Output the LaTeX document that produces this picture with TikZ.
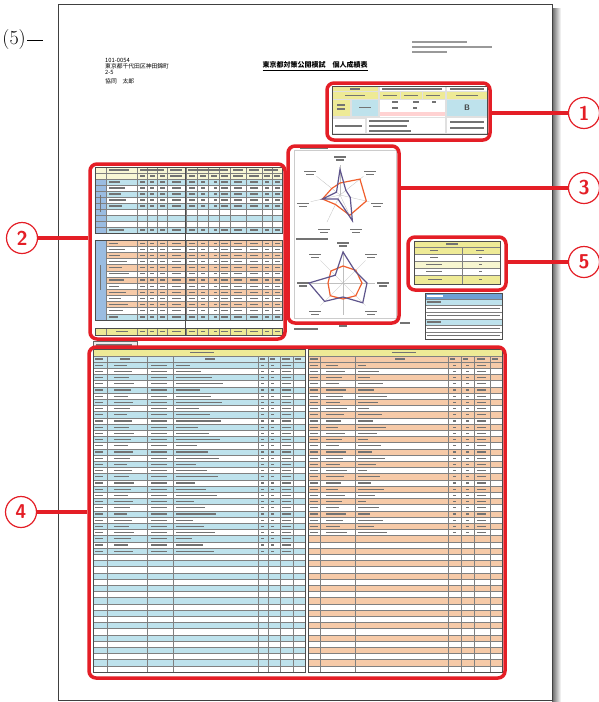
\documentclass[tikz,border=0pt]{standalone}
\usepackage{fontspec}
\newfontfamily\jpfont{Noto Sans CJK JP}
\usetikzlibrary{calc, positioning}

\definecolor{calloutred}{RGB}{228,30,38}
\definecolor{rowblue}{RGB}{190,226,236}
\definecolor{roworange}{RGB}{246,202,168}
\definecolor{rowyellow}{RGB}{238,234,150}
\definecolor{headblue}{RGB}{110,160,212}
\definecolor{lineplum}{RGB}{95,85,140}
\definecolor{lineorange}{RGB}{240,95,45}
\definecolor{inkgray}{RGB}{115,115,115}

\tikzset{
  callout/.style={draw=calloutred, line width=3.5pt, rounded corners=7pt, inner sep=0pt},
  leader/.style={calloutred, line width=4.5pt},
  badge/.style={circle, draw=calloutred, line width=1.2pt, fill=white, text=calloutred,
    minimum size=31pt, inner sep=0pt, font=\sffamily\bfseries\fontsize{20}{20}\selectfont},
  grid/.style={draw=black!50, line width=0.35pt},
  frame/.style={draw=black!70, line width=0.6pt},
}
\newcommand{\inkbar}[3]{\fill[inkgray] ({#1},{(#2)-0.6}) rectangle ++({#3},1.2);}

\begin{document}
\begin{tikzpicture}[x=1pt, y=-1pt]
\useasboundingbox (0,0) rectangle (599,702);

% sheet and its shadow
\shade[left color=black!60, right color=white] (552,8) rectangle (561,702);
\draw[black!75, line width=0.6pt, fill=white] (58,4) rectangle (552,700);

% page reference in the margin
\node[anchor=east, inner sep=1pt, font=\fontsize{20}{20}\selectfont] (pageref) at (27,40) {(5)};
\coordinate (pagerefend) at (43,40);
\draw[line width=0.7pt] (pageref) -- (pagerefend);

% address block
\node[anchor=west, inner sep=0pt, font=\jpfont\fontsize{5.8}{5.8}\selectfont] (zip) at (105,60) {101-0054};
\node[anchor=west, inner sep=0pt, font=\jpfont\fontsize{5.8}{5.8}\selectfont] (addr) at (105,66) {東京都千代田区神田錦町};
\node[anchor=west, inner sep=0pt, font=\jpfont\fontsize{5.8}{5.8}\selectfont] (block) at (105,72) {2-5};
\node[anchor=west, inner sep=0pt, font=\jpfont\fontsize{5.8}{5.8}\selectfont] (pupil) at (105,81) {協同　太郎};

% title and school
\node[font=\jpfont\bfseries\fontsize{7}{7}\selectfont] (title) at (315,66) {\underline{東京都対策公開模試　個人成績表}};
\fill[black!40] (412,41.4) rectangle ++(55,1.1);
\fill[black!40] (412,46.4) rectangle ++(80,1.1);
\fill[black!40] (412,51.4) rectangle ++(35,1.1);

% box 1 : summary
\fill[black!12] (332,86) rectangle (487,134);
\fill[rowyellow] (332,87) rectangle (378,91);
\fill[white] (380,87) rectangle (445,91);
\fill[white] (447,87) rectangle (487,91);
\foreach \ax/\bx in {332/378,380/400,401/422,423/445,447/487}
  \fill[rowyellow] (\ax,92) rectangle (\bx,99);
\fill[rowyellow] (332,100) rectangle (350,116);
\fill[rowblue] (352,100) rectangle (378,116);
\fill[white] (380,100) rectangle (445,117);
\fill[pink!70] (380,112) rectangle (445,116);
\fill[rowblue] (447,100) rectangle (487,116);
\fill[white] (332,119) rectangle (365,133);
\fill[white] (367,118) rectangle (445,133);
\fill[white] (447,118) rectangle (487,133);
\draw[frame] (332,86) rectangle (487,134);
\inkbar{350}{89}{10} \inkbar{382}{89}{60} \inkbar{450}{89}{34}
\inkbar{345}{95.5}{20} \inkbar{383}{95.5}{14} \inkbar{404}{95.5}{14} \inkbar{426}{95.5}{14} \inkbar{456}{95.5}{22}
\inkbar{337}{105}{8} \inkbar{337}{109}{8} \inkbar{359}{107.5}{12}
\inkbar{392}{102}{6} \inkbar{413}{102}{6} \inkbar{432}{102}{4} \inkbar{392}{108}{6} \inkbar{413}{108}{4}
\node[font=\sffamily\bfseries\fontsize{8}{8}\selectfont, text=black!75] (rank) at (467,108) {B};
\inkbar{335}{126}{27}
\inkbar{369}{121}{40} \inkbar{369}{126}{38} \inkbar{369}{131}{42}
\inkbar{450}{122}{34} \inkbar{450}{128}{34}

% box 2 : scores by subject
\fill[rowyellow!40] (95,167) rectangle (282,179);
\foreach \i in {0,2,...,8}
  \fill[rowblue] (95,{179+6*\i}) rectangle (282,{185+6*\i});
\fill[rowblue] (95,227) rectangle (282,233);
\foreach \i in {0,2,...,12}
  \fill[roworange] (95,{240+6.15*\i}) rectangle (282,{246.15+6.15*\i});
\fill[rowblue] (95,313.8) rectangle (282,320);
\fill[rowyellow] (95,328) rectangle (282,335);
\fill[headblue!70] (95,179) rectangle (106,233);
\fill[headblue!70] (95,240) rectangle (106,320);
\foreach \i in {0,...,9} \draw[grid] (95,{179+6*\i}) -- (282,{179+6*\i});
\foreach \i in {0,...,13} \draw[grid] (106,{240+6.15*\i}) -- (282,{240+6.15*\i});
\draw[grid] (95,173) -- (282,173);
\foreach \cx in {106,137,147,157,167,186,197,208,219,230,246,262,272} {
  \draw[grid] (\cx,167) -- (\cx,233);
  \draw[grid] (\cx,240) -- (\cx,320);
  \draw[grid] (\cx,328) -- (\cx,335);
}
\draw[black!70, line width=0.8pt] (185,167) -- (185,335);
\draw[frame] (95,167) rectangle (282,233);
\draw[frame] (95,240) rectangle (282,320);
\draw[frame] (95,328) rectangle (282,335);
\fill[inkgray] (100,195) rectangle (101.2,212);
\fill[inkgray] (100,265) rectangle (101.2,290);
\foreach \hx/\hw in {109/20,140/24,170/12,188/40,233/10,249/10,264/14} {\inkbar{\hx}{170}{\hw}}
\foreach \hx/\hw in {140/5,150/5,160/5,170/12,189/6,200/6,211/6,221/7,233/10,249/10,264/6,274/6} {\inkbar{\hx}{176}{\hw}}
\foreach \i in {0,1,2,3,4,8} {
  \pgfmathsetmacro{\ry}{182+6*\i}
  \pgfmathsetmacro{\wa}{11+mod(\i*5,9)}
  \inkbar{109}{\ry}{\wa}
  \foreach \nx/\nw in {140/5,150/4,160/5,172/9,189/6,201/4,214/3,221/7,234/8,250/8,265/4,275/5}
    {\inkbar{\nx}{\ry}{\nw}}
}
\foreach \i in {0,...,12} {
  \pgfmathsetmacro{\ry}{243.1+6.15*\i}
  \pgfmathsetmacro{\wa}{9+mod(\i*7,12)}
  \inkbar{109}{\ry}{\wa}
  \foreach \nx/\nw in {140/5,150/4,160/5,172/9,189/6,201/4,214/3,221/7,234/8,250/8,265/4,275/5}
    {\inkbar{\nx}{\ry}{\nw}}
}
\inkbar{116}{331.5}{12}
\foreach \nx/\nw in {140/5,150/4,160/5,172/9,189/6,201/4,214/3,221/7,234/8,250/8,265/4,275/5}
  {\inkbar{\nx}{331.5}{\nw}}

% box 3 : radar charts
\draw[black!20, line width=0.4pt] (294,150) rectangle (396,318);
\inkbar{300}{148}{28}
\coordinate (radarA) at (340,195);
\begin{scope}[shift={(radarA)}]
  \foreach \k in {0,...,6} {
    \draw[black!25, line width=0.3pt] (0,0) -- ({-90+\k*51.43}:30);
    \inkbar{38*cos(-90+\k*51.43)-6}{38*sin(-90+\k*51.43)}{12}
    \inkbar{38*cos(-90+\k*51.43)-4}{38*sin(-90+\k*51.43)+3}{8}
  }
  \draw[lineorange, line width=1.2pt] (-90:12) -- (-38.57:25.5) -- (12.86:27) -- (64.29:22.5)
    -- (115.71:10.5) -- (167.14:18) -- (218.57:10.5) -- cycle;
  \draw[lineplum, line width=1.2pt] (-90:25.5) -- (-38.57:7.5) -- (12.86:10.5) -- (64.29:28.5)
    -- (115.71:4.5) -- (167.14:18) -- (218.57:4.5) -- cycle;
\end{scope}
\inkbar{296}{239}{32}
\coordinate (radarB) at (343,283);
\begin{scope}[shift={(radarB)}]
  \foreach \k in {0,...,7} {
    \draw[black!25, line width=0.3pt] (0,0) -- ({-90+\k*45}:32);
    \inkbar{40*cos(-90+\k*45)-6}{40*sin(-90+\k*45)}{12}
    \inkbar{40*cos(-90+\k*45)-4}{40*sin(-90+\k*45)+3}{8}
  }
  \draw[lineorange, line width=1.2pt] (-90:17) -- (-45:18) -- (0:19) -- (45:18)
    -- (90:16) -- (135:18) -- (180:15) -- (225:17) -- cycle;
  \draw[lineplum, line width=1.2pt] (-90:31) -- (-45:17) -- (0:24) -- (45:28)
    -- (90:14) -- (135:26) -- (180:34) -- (225:11) -- cycle;
\end{scope}
\inkbar{294}{329}{24}
\inkbar{400}{323}{10}

% box 5 : evaluation
\fill[rowyellow] (414,241) rectangle (500,254);
\fill[rowyellow!45] (414,261) rectangle (500,268);
\fill[rowyellow] (414,275) rectangle (500,284);
\foreach \ry in {247,254,261,268,275} \draw[grid] (414,\ry) -- (500,\ry);
\draw[grid] (462,247) -- (462,284);
\draw[frame] (414,241) rectangle (500,284);
\inkbar{446}{244}{12}
\inkbar{430}{250.5}{8} \inkbar{476}{250.5}{8}
\inkbar{430}{257.5}{8} \inkbar{479}{257.5}{3}
\inkbar{426}{264.5}{16} \inkbar{479}{264.5}{3}
\inkbar{426}{271.5}{16} \inkbar{479}{271.5}{3}
\inkbar{428}{279.5}{14} \inkbar{479}{279.5}{3}

% legend codes
\fill[headblue] (425,293) rectangle (502,299);
\fill[rowblue] (425,299) rectangle (502,305);
\fill[rowblue] (425,319) rectangle (502,325);
\foreach \ry in {299,305,312,319,325,332} \draw[grid] (425,\ry) -- (502,\ry);
\draw[frame] (425,293) rectangle (502,339);
\fill[white] (427,295.4) rectangle ++(16,1.2);
\inkbar{427}{302}{14}
\inkbar{427}{308.5}{73} \inkbar{427}{315.5}{73}
\inkbar{427}{322}{14}
\inkbar{427}{328.5}{73} \inkbar{427}{335.5}{73}

% box 4 : results per question
\draw[black!60, fill=black!8] (93,341) rectangle (137,349);
\inkbar{96}{345}{36}
\fill[rowyellow] (93,349) rectangle (305,356);
\fill[rowyellow] (308,349) rectangle (502,356);
\fill[rowblue!80] (93,356) rectangle (305,362);
\fill[roworange] (308,356) rectangle (502,362);
\foreach \i in {0,2,...,48} {
  \fill[rowblue] (93,{362+6.2*\i}) rectangle (305,{368.2+6.2*\i});
  \fill[roworange] (308,{362+6.2*\i}) rectangle (502,{368.2+6.2*\i});
}
\foreach \i in {0,...,50} {
  \draw[grid] (93,{362+6.2*\i}) -- (305,{362+6.2*\i});
  \draw[grid] (308,{362+6.2*\i}) -- (502,{362+6.2*\i});
}
\foreach \cx in {107,147,173,258,268,280,293} \draw[grid] (\cx,356) -- (\cx,672);
\foreach \cx in {320,355,448,461,474,490} \draw[grid] (\cx,356) -- (\cx,672);
\draw[grid] (93,356) -- (305,356);
\draw[grid] (308,356) -- (502,356);
\draw[frame] (93,349) rectangle (305,672);
\draw[frame] (308,349) rectangle (502,672);
\inkbar{190}{352.5}{24} \inkbar{392}{352.5}{24}
\foreach \hx/\hw in {95/8,120/10,205/10,260/5,270/5,282/8,295/6} {\inkbar{\hx}{359}{\hw}}
\foreach \hx/\hw in {310/8,395/10,450/5,463/5,477/8,492/6} {\inkbar{\hx}{359}{\hw}}
\foreach \i in {0,...,30} {
  \pgfmathsetmacro{\ry}{365.1+6.2*\i}
  \pgfmathsetmacro{\wa}{13+mod(\i*5,8)}
  \pgfmathsetmacro{\wb}{14+mod(\i*11,34)}
  \inkbar{95}{\ry}{8}
  \inkbar{114}{\ry}{\wa}
  \inkbar{151}{\ry}{16}
  \inkbar{176}{\ry}{\wb}
  \inkbar{261}{\ry}{3}
  \inkbar{271}{\ry}{3}
  \inkbar{282}{\ry}{9}
}
\foreach \i in {0,...,27} {
  \pgfmathsetmacro{\ry}{365.1+6.2*\i}
  \pgfmathsetmacro{\wa}{12+mod(\i*7,10)}
  \pgfmathsetmacro{\wb}{8+mod(\i*13,22)}
  \inkbar{310}{\ry}{8}
  \inkbar{326}{\ry}{\wa}
  \inkbar{358}{\ry}{\wb}
  \inkbar{453}{\ry}{3}
  \inkbar{466}{\ry}{3}
  \inkbar{477}{\ry}{9}
}

% callout frames
\node[callout, minimum width=163pt, minimum height=57pt] (box1) at (408.5,111.5) {};
\node[callout, minimum width=195pt, minimum height=175pt] (box2) at (187.5,251.5) {};
\node[callout, minimum width=111pt, minimum height=177pt] (box3) at (343.5,234.5) {};
\node[callout, minimum width=416pt, minimum height=331pt] (box4) at (297,512.5) {};
\node[callout, minimum width=98pt, minimum height=53pt] (box5) at (457,263.5) {};

% numbered badges
\node[badge] (n1) at (584,113) {1};
\node[badge] (n2) at (22,238) {2};
\node[badge] (n3) at (584,188) {3};
\node[badge] (n4) at (21,512) {4};
\node[badge] (n5) at (584,262) {5};
\draw[leader] (box1.east |- n1) -- (n1);
\draw[leader] (n2) -- (box2.west |- n2);
\draw[leader] (box3.east |- n3) -- (n3);
\draw[leader] (n4) -- (box4.west |- n4);
\draw[leader] (box5.east |- n5) -- (n5);
\end{tikzpicture}
\end{document}
